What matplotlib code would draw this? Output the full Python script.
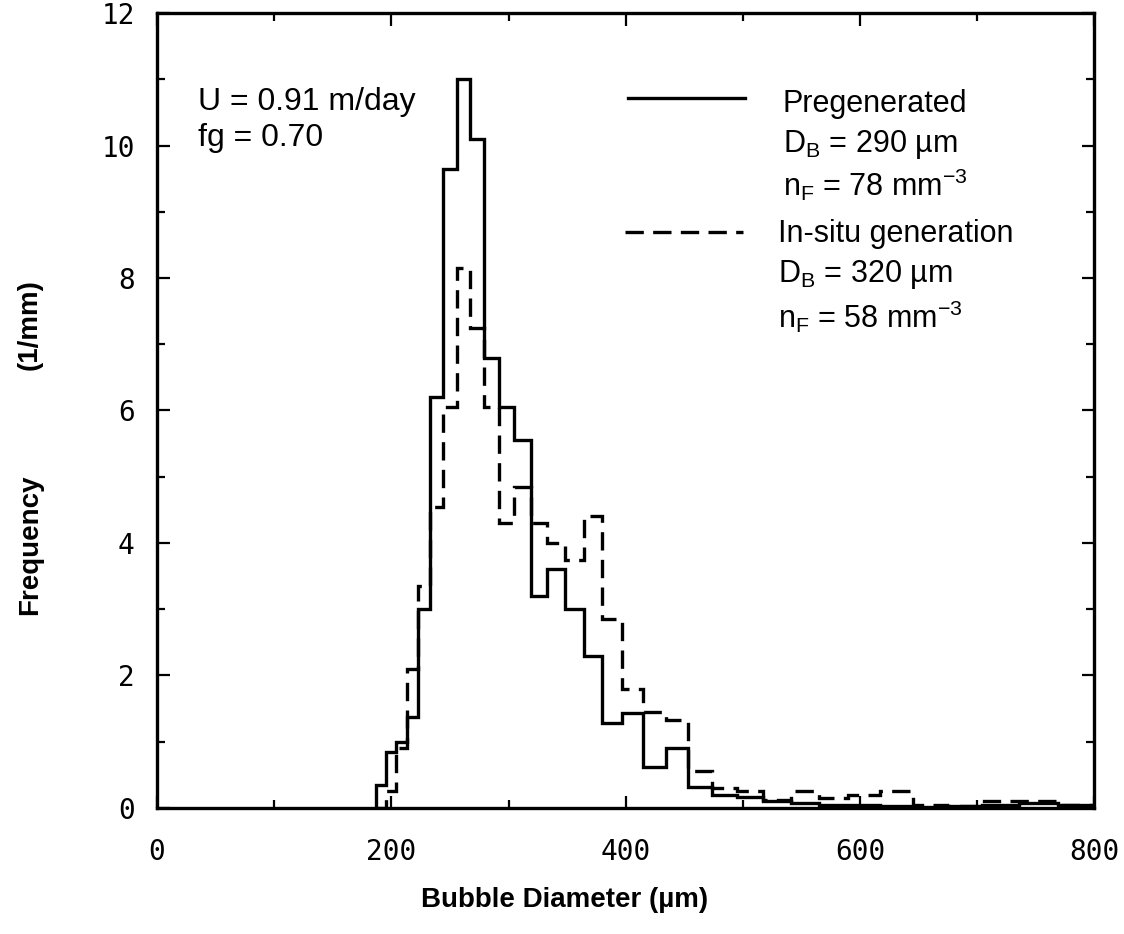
import matplotlib
matplotlib.use('Agg')
import matplotlib.pyplot as plt
from matplotlib.ticker import MultipleLocator, FixedLocator

# Bin edges (bubble diameter, um)
bin_edges = [187, 195, 204, 213, 223, 233, 244, 256, 267, 279, 292, 305, 319,
             333, 348, 364, 380, 397, 415, 434, 453, 474, 495, 517, 541, 565,
             590, 617, 645, 674, 704, 736, 769, 800]

# Frequency (1/mm) per bin
pregenerated = [0.35, 0.85, 1.0, 1.38, 3.0, 6.2, 9.65, 11.0, 10.1, 6.8, 6.05,
                5.55, 3.2, 3.6, 3.0, 2.3, 1.28, 1.43, 0.62, 0.9, 0.31, 0.2,
                0.17, 0.1, 0.08, 0.05, 0.05, 0.03, 0.02, 0.03, 0.05, 0.07, 0.04]
in_situ = [0.0, 0.25, 0.9, 2.1, 3.35, 4.55, 6.05, 8.15, 7.25, 6.05, 4.3,
           4.85, 4.3, 4.0, 3.75, 4.4, 2.85, 1.8, 1.45, 1.33, 0.55, 0.3,
           0.25, 0.12, 0.25, 0.15, 0.2, 0.25, 0.05, 0.03, 0.1, 0.1, 0.05]

x_ticks = [0, 200, 400, 600, 800]
y_ticks = [0, 2, 4, 6, 8, 10, 12]

W, H = 1124, 934
fig = plt.figure(figsize=(W / 100, H / 100), dpi=100)
ax = fig.add_axes([0.1397, 0.135, 0.834, 0.851])

lw = 2.4
dash = (0, (5.5, 2.8))
ax.stairs(pregenerated, bin_edges, color='black', lw=lw, baseline=0)
ax.stairs(in_situ, bin_edges, color='black', lw=lw, baseline=0, linestyle=dash)

ax.set_xlim(0, 800)
ax.set_ylim(0, 12)
ax.xaxis.set_major_locator(FixedLocator(x_ticks))
ax.xaxis.set_minor_locator(MultipleLocator(100))
ax.yaxis.set_major_locator(FixedLocator(y_ticks))
ax.yaxis.set_minor_locator(MultipleLocator(1))
ax.tick_params(which='both', direction='in', top=True, right=True,
               width=1.6, labelsize=20)
ax.tick_params(which='major', length=9)
ax.tick_params(which='minor', length=6)
ax.tick_params(axis='x', pad=22)
ax.tick_params(axis='y', pad=16)
for lab in ax.get_xticklabels() + ax.get_yticklabels():
    lab.set_family('DejaVu Sans Mono')
for s in ax.spines.values():
    s.set_linewidth(2.4)

fig.text(565 / W, 1 - 900 / H, 'Bubble Diameter (\u00b5m)', family='Liberation Sans',
         fontweight='bold', fontsize=20, ha='center', va='center')

lab_kw = dict(family='Liberation Sans', fontweight='bold', fontsize=20,
              rotation=90, ha='center', va='center')
fig.text(30 / W, 1 - 325 / H, '(1/mm)', **lab_kw)
fig.text(30 / W, 1 - 545 / H, 'Frequency', **lab_kw)

tf = dict(family='Liberation Sans', fontsize=22, va='center', ha='left')
ax.text(35, 10.65, 'U = 0.91 m/day', **dict(tf, fontsize=23))
ax.text(35, 10.12, 'fg = 0.70', **dict(tf, fontsize=23))

# legend-like annotation
ax.plot([402, 502], [10.72, 10.72], color='black', lw=lw)
ax.plot([399, 500], [8.70, 8.70], color='black', lw=lw, linestyle=dash)
ax.text(534, 10.62, 'Pregenerated', **tf)
ax.text(534, 10.02, 'D$_{\\mathregular{B}}$ = 290 \u00b5m', **tf)
ax.text(534, 9.40, 'n$_{\\mathregular{F}}$ = 78 mm$^{\\mathregular{-3}}$', **tf)
ax.text(530, 8.66, 'In-situ generation', **tf)
ax.text(530, 8.06, 'D$_{\\mathregular{B}}$ = 320 \u00b5m', **tf)
ax.text(530, 7.42, 'n$_{\\mathregular{F}}$ = 58 mm$^{\\mathregular{-3}}$', **tf)

fig.savefig('out.png', dpi=100)
